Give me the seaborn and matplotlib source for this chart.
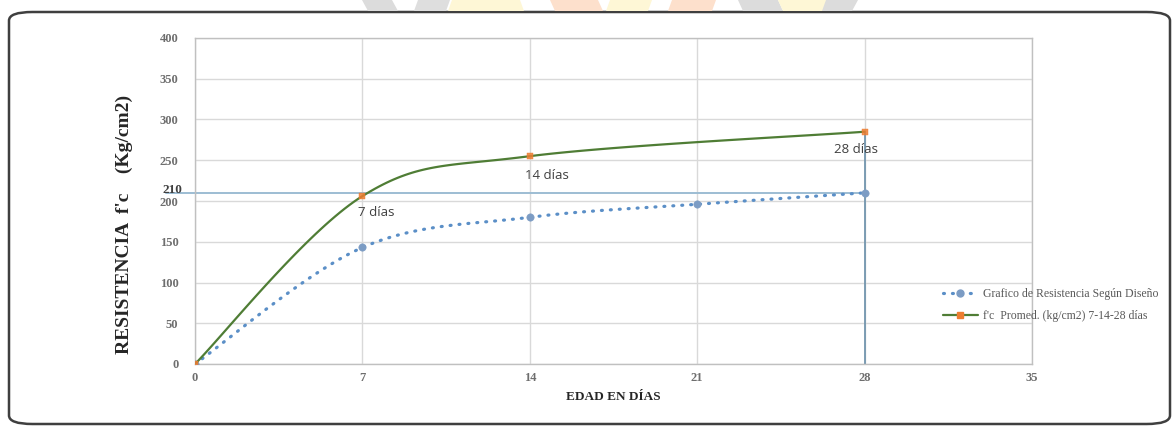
import numpy as np
import pandas as pd
import matplotlib
matplotlib.use("Agg")
import matplotlib.pyplot as plt
from matplotlib.lines import Line2D
from matplotlib.patches import FancyBboxPatch, Polygon
import seaborn as sns

# Strength development data (kg/cm2) against age in days
dias_diseno = [0, 7, 14, 21, 28]
resist_diseno = [0, 143, 180, 196, 210]
dias_ensayo = [0, 7, 14, 28]
resist_ensayo = [0, 206, 255, 285]
etiquetas_ensayo = ["", "7 días", "14 días", "28 días"]
fc_diseno = 210
x_ticks = [0, 7, 14, 21, 28, 35]
y_ticks = [0, 50, 100, 150, 200, 250, 300, 350, 400]
serie_diseno = "Grafico de Resistencia Según Diseño"
serie_ensayo = "f'c  Promed. (kg/cm2) 7-14-28 días"


def smooth_curve(xs, ys, n=40):
    """Smoothed line through the points using cubic Bezier segments
    (Catmull-Rom style control points, as spreadsheet 'smoothed lines')."""
    p = np.column_stack([xs, ys]).astype(float)
    pts = []
    for i in range(len(p) - 1):
        p_prev = p[i - 1] if i > 0 else p[i]
        p_next = p[i + 2] if i + 2 < len(p) else p[i + 1]
        c1 = p[i] + (p[i + 1] - p_prev) / 6.0
        c2 = p[i + 1] - (p_next - p[i]) / 6.0
        t = np.linspace(0, 1, n)[:, None]
        seg = ((1 - t) ** 3) * p[i] + 3 * ((1 - t) ** 2) * t * c1 \
            + 3 * (1 - t) * t ** 2 * c2 + t ** 3 * p[i + 1]
        pts.append(seg if i == 0 else seg[1:])
    pts = np.vstack(pts)
    return pts[:, 0], pts[:, 1]


sns.set_theme(style="white")
plt.rcParams["font.family"] = ["Liberation Serif", "DejaVu Serif"]

W, H = 1173, 428
fig = plt.figure(figsize=(W / 100, H / 100), dpi=100)
ax = fig.add_axes([195 / W, 1 - 364 / H, (1032 - 195) / W, (364 - 38) / H])

grid_c = "#d9d9d9"
blue = "#5b8fc7"
blue_mk = "#7c9cc4"
green = "#4f7d35"
orange = "#ed7d31"
ref_c = "#9dbdd3"

# reference lines: design strength and 28 days
ax.plot([-1.2, 28], [fc_diseno, fc_diseno], color=ref_c, lw=1.4,
        clip_on=False, zorder=2)
ax.plot([28, 28], [0, resist_ensayo[-1]], color="#7396ae", lw=1.3, zorder=2)

# design curve (dotted, smoothed)
sx, sy = smooth_curve(dias_diseno, resist_diseno)
sns.lineplot(x=sx, y=sy, ax=ax, sort=False, estimator=None, color=blue,
             lw=2.3, zorder=3)
ax.lines[-1].set_linestyle((0, (0.3, 2.5)))
ax.lines[-1].set_dash_capstyle("round")
sns.scatterplot(x=dias_diseno, y=resist_diseno, ax=ax, color=blue_mk,
                s=28, edgecolor=blue_mk, zorder=4)

# test results curve (solid, smoothed)
gx, gy = smooth_curve(dias_ensayo, resist_ensayo)
sns.lineplot(x=gx, y=gy, ax=ax, sort=False, estimator=None, color=green,
             lw=1.6, zorder=5)
sns.scatterplot(x=dias_ensayo, y=resist_ensayo, ax=ax, color=orange,
                s=20, marker="s", edgecolor=orange, alpha=0.85, zorder=6)

# age labels below the test points
offsets = [(0, 0), (10, -12), (12, -14), (-6, -13)]
for xd, yd, lab, off in zip(dias_ensayo, resist_ensayo, etiquetas_ensayo, offsets):
    if lab:
        ax.annotate(lab, (xd, yd), xytext=off, textcoords="offset points",
                    ha="center", va="center", fontsize=9.5, color="#404040",
                    family=["Open Sans", "DejaVu Sans"], zorder=7)

ax.set_xlim(0, 35)
ax.set_ylim(0, 400)
ax.set_xticks(x_ticks)
ax.set_yticks(y_ticks)
ax.grid(True, color=grid_c, lw=1.0)
ax.set_axisbelow(True)
for s in ax.spines.values():
    s.set_color("#c0c0c0")
    s.set_linewidth(1.0)
ax.tick_params(axis="both", length=0, labelsize=9, labelcolor="#6e6e6e")
ax.tick_params(axis="y", pad=12)
ax.tick_params(axis="x", pad=6)
for t in ax.get_xticklabels() + ax.get_yticklabels():
    t.set_fontweight("bold")

ax.text(-0.0145, fc_diseno + 4, str(fc_diseno), transform=ax.get_yaxis_transform(),
        ha="right", va="center", fontsize=9.5, fontweight="bold", color="#404040")

ax.set_xlabel("EDAD EN DÍAS", fontsize=9.5, fontweight="bold", color="#262626",
              labelpad=5)
ax.set_ylabel("RESISTENCIA  f'c    (Kg/cm2)", fontsize=14, fontweight="bold",
              color="#262626")
ax.yaxis.set_label_coords(-0.074, 0.428)

handles = [
    Line2D([], [], color=blue, lw=2.3, linestyle=(0, (0.3, 2.5)),
           dash_capstyle="round", marker="o", markersize=5,
           markerfacecolor=blue_mk, markeredgecolor=blue_mk),
    Line2D([], [], color=green, lw=1.6, marker="s", markersize=4,
           markerfacecolor=orange, markeredgecolor=orange),
]
fig.legend(handles, [serie_diseno, serie_ensayo], loc="center left",
           bbox_to_anchor=(938 / W, 1 - 305 / H), frameon=False,
           fontsize=8.5, labelcolor="#595959", handlelength=3.0,
           handletextpad=0.4, labelspacing=0.9, borderaxespad=0)

# outer rounded frame
frame = FancyBboxPatch((9 / W, 4 / H), (1161 / W), (412 / H),
                       boxstyle="round,pad=0,rounding_size=0.02",
                       transform=fig.transFigure, fill=False,
                       edgecolor="#3f3f3f", lw=1.8, zorder=0)
fig.patches.append(frame)

# faint logo shapes peeking above the frame
shapes = [
    ([(362, 0), (392, 0), (398, 11), (368, 11)], "#dcdcdc"),
    ([(418, 0), (450, 0), (446, 11), (414, 11)], "#dedede"),
    ([(452, 0), (520, 0), (524, 11), (448, 11)], "#fef7d6"),
    ([(550, 0), (598, 0), (603, 11), (555, 11)], "#fde0cc"),
    ([(610, 0), (652, 0), (648, 11), (606, 11)], "#fef7d6"),
    ([(672, 0), (716, 0), (712, 11), (668, 11)], "#fde0cc"),
    ([(738, 0), (778, 0), (783, 11), (743, 11)], "#dcdcdc"),
    ([(778, 0), (828, 0), (828, 11), (783, 11)], "#fef7d6"),
    ([(826, 0), (858, 0), (852, 11), (822, 11)], "#dcdcdc"),
]
for pts, col in shapes:
    poly = Polygon([(x / W, 1 - y / H) for x, y in pts], closed=True,
                   transform=fig.transFigure, facecolor=col, edgecolor="none",
                   zorder=0)
    fig.patches.append(poly)

fig.savefig("out.png", dpi=100, facecolor="white")
